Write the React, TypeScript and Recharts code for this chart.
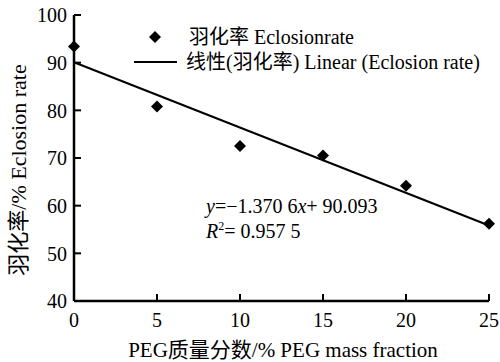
import React from "react";
import { ComposedChart, XAxis, YAxis, Scatter, Line, Customized } from "recharts";

const pegFraction = [0, 5, 10, 15, 20, 25];
const eclosionRate = [93.4, 80.8, 72.5, 70.5, 64.2, 56.2];
const trendX = [0, 25];
const trendY = [90.093, 55.828];
const xTicks = [0, 5, 10, 15, 20, 25];
const yTicks = [40, 50, 60, 70, 80, 90, 100];

const xTitle = "PEG质量分数/% PEG mass fraction";
const yTitle = "羽化率/% Eclosion rate";
const legendScatter = "羽化率 Eclosionrate";
const legendLine = "线性(羽化率) Linear (Eclosion rate)";

const points = pegFraction.map((x, i) => ({ x, y: eclosionRate[i] }));
const trend = trendX.map((x, i) => ({ x, y: trendY[i] }));

const FONT = "Liberation Serif, Times New Roman, DejaVu Serif, Noto Sans CJK SC, serif";
const T = { fontFamily: FONT, fontSize: 20 };

const YTick = (props: any) => {
  const { x, y, payload } = props;
  return (
    <g>
      <line x1={x} x2={x + 7} y1={y} y2={y} stroke="#000" strokeWidth={2} />
      <text x={x - 7} y={y} dy="0.36em" textAnchor="end" style={T} fill="#000">
        {payload.value}
      </text>
    </g>
  );
};

const XTick = (props: any) => {
  const { x, y, payload } = props;
  return (
    <g>
      <line x1={x} x2={x} y1={y} y2={y - 7} stroke="#000" strokeWidth={2} />
      <text x={x} y={y + 26} textAnchor="middle" style={T} fill="#000">
        {payload.value}
      </text>
    </g>
  );
};

const Diamond = (props: any) => {
  const { cx, cy } = props;
  const r = 6;
  return <polygon points={`${cx},${cy - r} ${cx + r},${cy} ${cx},${cy + r} ${cx - r},${cy}`} fill="#000" />;
};

const Overlay = () => (
  <g fill="#000">
    <polygon points="155,31 161,37 155,43 149,37" fill="#000" />
    <text x={189} y={44} style={T}>{legendScatter}</text>
    <line x1={134} x2={177} y1={62} y2={62} stroke="#000" strokeWidth={2} />
    <text x={186} y={69} style={T}>{legendLine}</text>
    <text x={206} y={213} style={T}>
      <tspan fontStyle="italic">y</tspan>
      <tspan>=−1.370 6</tspan>
      <tspan fontStyle="italic">x</tspan>
      <tspan>+ 90.093</tspan>
    </text>
    <text x={206} y={238} style={T}>
      <tspan fontStyle="italic">R</tspan>
      <tspan style={{ fontSize: 12 }} dy={-8}>2</tspan>
      <tspan dy={8}>= 0.957 5</tspan>
    </text>
    <text x={283} y={357} style={{ ...T, fontSize: 21 }} textAnchor="middle">{xTitle}</text>
    <text x={0} y={0} style={{ ...T, fontSize: 22 }} textAnchor="middle" transform="translate(26,170) rotate(-90)">{yTitle}</text>
  </g>
);

export default function App() {
  return (
    <div style={{ position: "absolute", left: 0, top: 0, background: "#fff" }}>
      <ComposedChart width={500} height={362} margin={{ top: 15, right: 11, left: 0, bottom: 0 }}>
        <XAxis
          type="number"
          dataKey="x"
          domain={[0, 25]}
          ticks={xTicks}
          height={61}
          tickSize={0}
          tickMargin={0}
          tickLine={false}
          tick={<XTick />}
          axisLine={{ stroke: "#000", strokeWidth: 2.5 }}
          interval={0}
        />
        <YAxis
          type="number"
          dataKey="y"
          domain={[40, 100]}
          ticks={yTicks}
          width={74}
          tickSize={0}
          tickMargin={0}
          tickLine={false}
          tick={<YTick />}
          axisLine={{ stroke: "#000", strokeWidth: 2.5 }}
          interval={0}
        />
        <Line
          data={trend}
          dataKey="y"
          type="linear"
          stroke="#000"
          strokeWidth={2}
          dot={false}
          activeDot={false}
          isAnimationActive={false}
        />
        <Scatter data={points} dataKey="y" shape={<Diamond />} isAnimationActive={false} />
        <Customized component={Overlay} />
      </ComposedChart>
    </div>
  );
}
